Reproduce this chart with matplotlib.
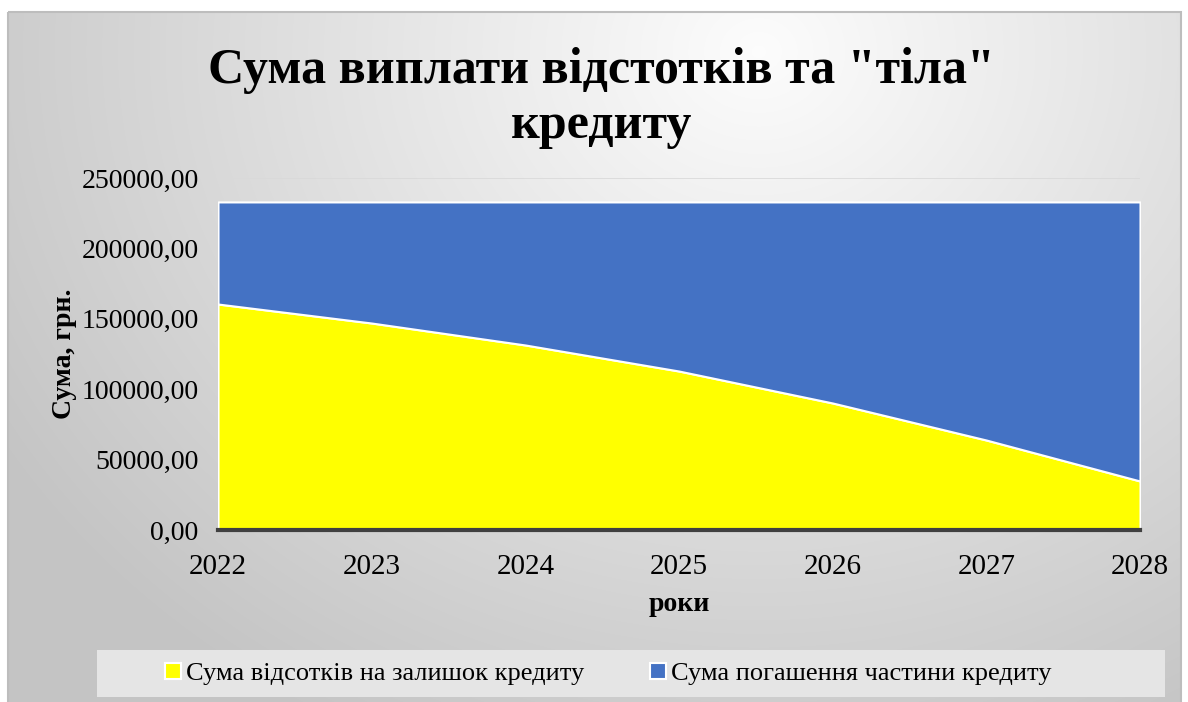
import numpy as np
import matplotlib.pyplot as plt
from matplotlib.patches import Rectangle

plt.rcParams['font.family'] = ['Liberation Serif', 'DejaVu Serif']

years = [2022, 2023, 2024, 2025, 2026, 2027, 2028]
interest = [160500, 147000, 131400, 112900, 90200, 63900, 34800]
total = 233000
principal = [total - v for v in interest]

title = 'Сума виплати відстотків та "тіла"\nкредиту'
label_interest = 'Сума відсотків на залишок кредиту'
label_principal = 'Сума погашення частини кредиту'
yticks = [0, 50000, 100000, 150000, 200000, 250000]

W, H = 1188, 702
fig = plt.figure(figsize=(W / 100, H / 100), dpi=100)
fig.patch.set_facecolor('white')

# gradient background of the chart frame
bg = fig.add_axes([0, 0, 1, 1], zorder=-10)
bg.axis('off')
yy, xx = np.mgrid[0:H, 0:W]
d = np.hypot(xx - 760, (yy - 40) * 1.15) / 900
d = np.clip(d, 0, 1)
shade = 0.99 - 0.22 * d
img = np.dstack([shade, shade, shade])
bg.imshow(img, extent=(8, 1181, 702, 12), aspect='auto', interpolation='bilinear')
bg.add_patch(Rectangle((8, 12), 1173, 692, fill=False, edgecolor='#bdbdbd', lw=1.5))
bg.add_patch(Rectangle((97, 650), 1068, 47, facecolor='#e5e5e5', edgecolor='none', zorder=5))
bg.set_xlim(0, W)
bg.set_ylim(H, 0)

ax = fig.add_axes([218 / W, 1 - 530 / H, (1140 - 218) / W, (530 - 178) / H])
ax.set_facecolor('none')
ax.stackplot(years, interest, principal, colors=['#FFFF00', '#4472C4'],
             edgecolor='white', linewidth=1.5, labels=[label_interest, label_principal], zorder=3)
ax.set_xlim(2022, 2028)
ax.set_ylim(0, 250000)
ax.set_yticks(yticks)
ax.set_yticklabels([f'{v},00' for v in yticks])
ax.set_xticks(years)
ax.grid(axis='y', color='#d9d9d9', lw=1.2, zorder=0)
for s in ['top', 'right', 'left']:
    ax.spines[s].set_visible(False)
ax.spines['bottom'].set_color('#404040')
ax.spines['bottom'].set_linewidth(3)
ax.spines['bottom'].set_zorder(4)
ax.tick_params(length=0, colors='black')
ax.tick_params(axis='x', labelsize=21, pad=17)
ax.tick_params(axis='y', labelsize=20, pad=14)
ax.set_xlabel('роки', fontsize=20, fontweight='bold', labelpad=9)
ax.set_ylabel('Сума, грн.', fontsize=20, fontweight='bold', labelpad=3)

fig.text(0.506, 1 - 98 / H, title, ha='center', va='center', fontsize=36,
         fontweight='bold', linespacing=1.25)

handles, labels = ax.get_legend_handles_labels()
fig.legend(handles, labels, loc='center', bbox_to_anchor=(0.512, 1 - 674 / H),
           ncol=2, frameon=False, fontsize=19, handlelength=0.6, handleheight=0.6,
           columnspacing=2.5, handletextpad=0.2)

fig.savefig('out.png', dpi=100)
